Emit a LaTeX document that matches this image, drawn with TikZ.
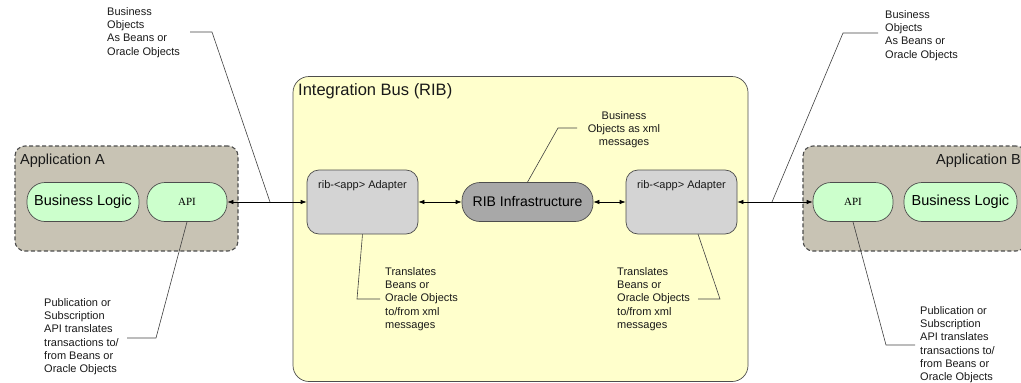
\documentclass[tikz,border=0pt]{standalone}
\usepackage{fontspec}
\setmainfont{Liberation Sans}
\newfontfamily\apifont{Liberation Serif}
\usetikzlibrary{arrows.meta}

\definecolor{busfill}{HTML}{FFFFCC}
\definecolor{appfill}{HTML}{C8C3B4}
\definecolor{logicfill}{HTML}{CCFFCC}
\definecolor{adapterfill}{HTML}{D4D4D4}
\definecolor{ribfill}{HTML}{A8A8A8}
\definecolor{rim}{HTML}{4D4D4D}

\begin{document}
\begin{tikzpicture}[x=1pt,y=-1pt,
    appbox/.style={draw=rim, fill=appfill, line width=1.1pt, dash pattern=on 4pt off 2.5pt,
      rounded corners=10pt, minimum width=223pt, minimum height=105pt, inner sep=0pt},
    busbox/.style={draw=rim, fill=busfill, line width=0.7pt, rounded corners=16pt,
      minimum width=455pt, minimum height=305pt, inner sep=0pt},
    pill/.style={draw=rim, fill=logicfill, line width=0.7pt, rounded corners=18pt,
      minimum height=39pt, inner sep=0pt, text=black},
    adapter/.style={draw=rim, fill=adapterfill, line width=0.7pt, rounded corners=12pt,
      minimum width=111pt, minimum height=64pt, inner sep=0pt},
    title/.style={inner sep=0pt, font=\fontsize{14.5}{16}\selectfont, text=black!90},
    note/.style={anchor=north west, align=left, inner sep=0pt,
      font=\fontsize{11}{13.3}\selectfont, text=black!90},
    callout/.style={draw=black!75, line width=0.6pt},
    link/.style={black, line width=0.7pt,
      {Latex[length=6pt,width=4.5pt]}-{Latex[length=6pt,width=4.5pt]}}]
  \useasboundingbox (0,0) rectangle (1021,383);

  % Application A
  \node[appbox] (appA) at (126.5,198.5) {};
  \node[title, anchor=north west] (appAtitle) at (20,154) {Application A};
  \node[pill, minimum width=112pt, font=\fontsize{14.5}{16}\selectfont] (logicA) at (83,202) {Business Logic};
  \node[pill, minimum width=80pt, font=\apifont\fontsize{11}{13}\selectfont] (apiA) at (187,202) {API};

  % Application B
  \node[appbox] (appB) at (914.5,198.5) {};
  \node[title, anchor=north east] (appBtitle) at (1021,154) {Application B};
  \node[pill, minimum width=80pt, font=\apifont\fontsize{11}{13}\selectfont] (apiB) at (853,202) {API};
  \node[pill, minimum width=113pt, font=\fontsize{14.5}{16}\selectfont] (logicB) at (960.5,202) {Business Logic};

  % Integration Bus
  \node[busbox] (bus) at (520.5,229) {};
  \node[title, anchor=north west, font=\fontsize{16.5}{18}\selectfont] (bustitle) at (298,83) {Integration Bus (RIB)};
  \node[adapter, label={[anchor=north, yshift=-11pt, inner sep=0pt, font=\fontsize{11}{13}\selectfont, text=black!90]north:rib-<app> Adapter}] (adL) at (362.5,202) {};
  \node[adapter, label={[anchor=north, yshift=-11pt, inner sep=0pt, font=\fontsize{11}{13}\selectfont, text=black!90]north:rib-<app> Adapter}] (adR) at (681.5,202) {};
  \node[draw=rim, fill=ribfill, line width=0.7pt, rounded corners=18pt, minimum width=131pt,
    minimum height=39pt, inner sep=0pt, font=\fontsize{14}{16}\selectfont] (rib) at (527.5,202) {RIB Infrastructure};

  % Message flow
  \draw[link] (apiA) -- (adL);
  \draw[link] (adL) -- (rib);
  \draw[link] (rib) -- (adR);
  \draw[link] (adR) -- (apiB);

  % Notes
  \node[note] (boL) at (107,7) {Business\\Objects\\As Beans or\\Oracle Objects};
  \node[note] (boR) at (885,10) {Business\\Objects\\As Beans or\\Oracle Objects};
  \node[note, anchor=north, align=center] (boX) at (624,111) {Business\\Objects as xml\\messages};
  \node[note] (trL) at (385,267) {Translates\\Beans or\\Oracle Objects\\to/from xml\\messages};
  \node[note] (trR) at (617,267) {Translates\\Beans or\\Oracle Objects\\to/from xml\\messages};
  \node[note] (pubA) at (44,298) {Publication or\\Subscription\\API translates\\transactions to/\\from Beans or\\Oracle Objects};
  \node[note] (pubB) at (920,306) {Publication or\\Subscription\\API translates\\transactions to/\\from Beans or\\Oracle Objects};

  % Callout lines
  \coordinate (boLs) at (190,32);  \coordinate (boLk) at (212,32);  \coordinate (boLe) at (270,202);
  \coordinate (boRs) at (878,33);  \coordinate (boRk) at (843,33);  \coordinate (boRe) at (772,202);
  \coordinate (boXs) at (577,128); \coordinate (boXk) at (558,128);
  \coordinate (trLk) at (357,299); \coordinate (trLs) at (380,299);
  \coordinate (trRe) at (698,234); \coordinate (trRk) at (720,299); \coordinate (trRs) at (698,299);
  \coordinate (pubAk) at (156,338); \coordinate (pubAs) at (127,338);
  \coordinate (pubBk) at (886,345); \coordinate (pubBs) at (915,345);
  \draw[callout] (boLs) -- (boLk) -- (boLe);
  \draw[callout] (boRs) -- (boRk) -- (boRe);
  \draw[callout] (boXs) -- (boXk) -- (rib.north);
  \draw[callout] (adL.south) -- (trLk) -- (trLs);
  \draw[callout] (trRe) -- (trRk) -- (trRs);
  \draw[callout] (apiA.south) -- (pubAk) -- (pubAs);
  \draw[callout] (apiB.south) -- (pubBk) -- (pubBs);
\end{tikzpicture}
\end{document}
